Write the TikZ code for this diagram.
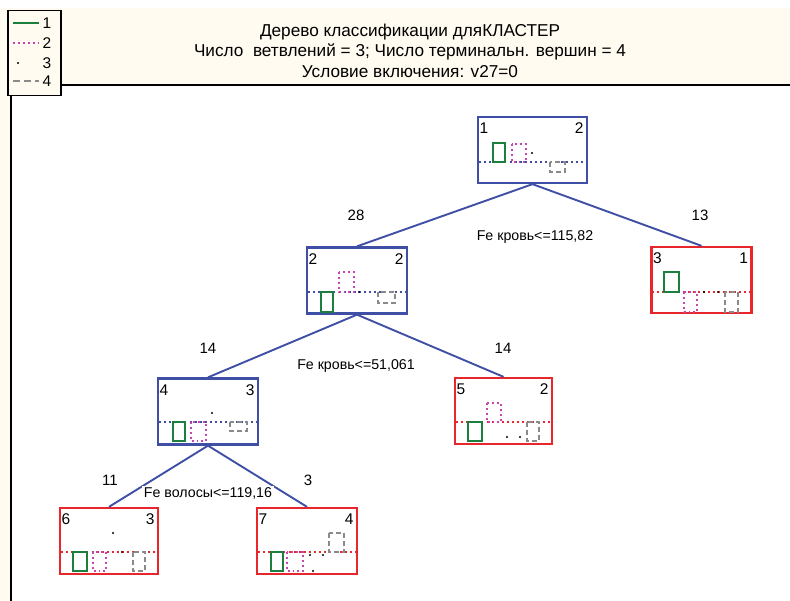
\documentclass[tikz,border=0pt]{standalone}
\usepackage{fontspec}
\setmainfont{Liberation Sans}
\usetikzlibrary{positioning}
\definecolor{cream}{HTML}{FFFBF1}
\definecolor{treeblue}{HTML}{3F4FA6}
\definecolor{treered}{HTML}{E8262C}
\definecolor{clgreen}{HTML}{1C7F3E}
\definecolor{clpink}{HTML}{C645B0}
\definecolor{clgrey}{HTML}{8A8A8A}
\tikzset{
  splitbox/.style={draw=treeblue,line width=2.3pt,minimum width=100,minimum height=66,inner sep=0pt},
  leafbox/.style={draw=treered,line width=2.3pt,minimum width=100,minimum height=66,inner sep=0pt},
  edge/.style={treeblue,line width=1.9pt},
  cnt/.style={font=\fontsize{15}{17}\selectfont,inner sep=1pt},
  cond/.style={font=\fontsize{14.2}{16}\selectfont,fill=white,inner sep=1.5pt},
  corner/.style={font=\fontsize{15.5}{17}\selectfont,inner sep=0pt}
}
\newcommand{\grnbar}[4]{\draw[clgreen,line width=1.9pt] (#1,#3) rectangle (#2,#4);}
\newcommand{\pnkbar}[4]{\draw[clpink,line width=1.9pt,dash pattern=on 1.9pt off 3pt] (#1,#3) rectangle (#2,#4);}
\newcommand{\grybar}[4]{\draw[clgrey,line width=1.7pt,dash pattern=on 5pt off 3pt] (#1,#3) rectangle (#2,#4);}
\newcommand{\blkdot}[2]{\fill (#1,#2) circle (1.2pt);}
\newcommand{\splitline}[4]{\draw[#4,line width=1.9pt,dash pattern=on 1.9pt off 3.2pt] (#1,#3)--(#2,#3);}

\begin{document}
\begin{tikzpicture}[x=1pt,y=-1pt]
\useasboundingbox (0,0) rectangle (790,601);
\fill[cream] (0,8) rectangle (790,85);\fill[cream] (0,85) rectangle (11,601);
\draw[line width=2pt] (60,85)--(790,85);\draw[line width=1.5pt] (11,95)--(11,601);
\node[font=\fontsize{17.2}{20.5}\selectfont,align=center] (title) at (410,50.5)
  {Дерево классификации дляКЛАСТЕР\\Число~ ветвлений = 3; Число терминальн. вершин = 4\\Условие включения: v27=0};

\node[draw,fill=cream,line width=1.5pt,minimum width=53,minimum height=85,anchor=north west] (legend) at (7,10) {};
\draw[clgreen,line width=1.7pt] (13,23)--(39,23);
\draw[clpink,line width=1.9pt,dash pattern=on 1.9pt off 3pt] (13,43)--(39,43);
\blkdot{18}{63}
\draw[clgrey,line width=1.7pt,dash pattern=on 7pt off 4pt] (13,81)--(39,81);
\node[corner] (lg1) at (47,23) {1};\node[corner] (lg2) at (47,43) {2};
\node[corner] (lg3) at (47,63) {3};\node[corner] (lg4) at (47,81) {4};

\node[splitbox,minimum width=109] (n1) at (532.5,150) {};
\node[splitbox] (n2) at (357,280.5) {};
\node[leafbox] (n3) at (701.5,280) {};
\node[splitbox] (n4) at (208,411.5) {};
\node[leafbox,minimum width=97] (n5) at (503.5,411) {};
\node[leafbox,minimum width=98] (n6) at (109,541) {};
\node[leafbox] (n7) at (307,541) {};

\draw[edge] (n1.south)--(n2.north);\draw[edge] (n1.south)--(n3.north);
\draw[edge] (n2.south)--(n4.north);\draw[edge] (n2.south)--(n5.north);
\draw[edge] (n4.south)--(n6.north);\draw[edge] (n4.south)--(n7.north);

\node[cnt] (c2) at (356,215) {28};\node[cnt] (c3) at (700,215) {13};
\node[cond] (s1) at (535,237) {Fe кровь<=115,82};
\node[cnt] (c4) at (208,348) {14};\node[cnt] (c5) at (503,348) {14};
\node[cond] (s2) at (356,366) {Fe кровь<=51,061};
\node[cnt] (c6) at (110,480) {11};\node[cnt] (c7) at (308,480) {3};
\node[cond] (s4) at (208,493) {Fe волосы<=119,16};

\foreach \n/\a/\b in {n1/1/2,n2/2/2,n3/3/1,n4/4/3,n5/5/2,n6/6/3,n7/7/4}{
  \node[corner,anchor=north west,xshift=2.5pt,yshift=-7pt] (\n l) at (\n.north west) {\a};
  \node[corner,anchor=north east,xshift=-4.5pt,yshift=-7pt] (\n r) at (\n.north east) {\b};
}

\splitline{479}{584}{162}{treeblue}
\grnbar{493}{505}{143}{162}\pnkbar{512}{526}{144}{162}\blkdot{532}{153}\grybar{550}{565}{162}{172}

\splitline{308}{405}{292}{treeblue}
\grnbar{321}{333}{292}{312}\pnkbar{339}{354}{272}{292}\blkdot{359}{292}\grybar{378}{395}{292}{303}

\splitline{652}{751}{292}{treered}
\grnbar{664}{679}{272}{292}\pnkbar{684}{697}{292}{312}\blkdot{704}{292}\blkdot{718}{292}\grybar{725}{738}{292}{312}

\splitline{159}{257}{422}{treeblue}
\grnbar{173}{185}{422}{441}\pnkbar{191}{206}{422}{441}\blkdot{212}{413}\grybar{230}{247}{422}{431}

\splitline{456}{551}{422}{treered}
\grnbar{468}{482}{422}{441}\pnkbar{487}{501}{403}{422}\blkdot{507}{437}\blkdot{520}{437}\grybar{527}{539}{422}{441}

\splitline{61}{157}{552}{treered}
\grnbar{73}{87}{552}{571}\pnkbar{93}{106}{552}{571}\blkdot{113}{533}\blkdot{122}{552}\grybar{133}{145}{552}{571}

\splitline{258}{356}{552}{treered}
\grnbar{271}{283}{552}{571}\pnkbar{287}{303}{552}{571}\blkdot{310}{555}\blkdot{323}{555}\blkdot{313}{571}\grybar{329}{344}{533}{552}
\end{tikzpicture}
\end{document}
